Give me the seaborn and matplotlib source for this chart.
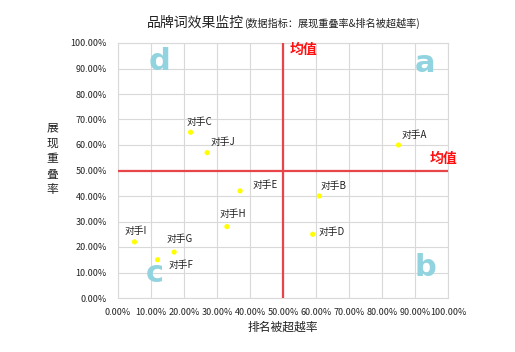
import matplotlib
matplotlib.use("Agg")
import matplotlib.pyplot as plt
import seaborn as sns
import pandas as pd
from matplotlib.ticker import FuncFormatter, MultipleLocator

names = ["对手A", "对手B", "对手C", "对手D", "对手E", "对手F", "对手G", "对手H", "对手I", "对手J"]
overtake_rate = [0.85, 0.61, 0.22, 0.59, 0.37, 0.12, 0.17, 0.33, 0.05, 0.27]
overlap_rate = [0.60, 0.40, 0.65, 0.25, 0.42, 0.15, 0.18, 0.28, 0.22, 0.57]
mean_x = 0.50
mean_y = 0.50
label_offsets = {  # pixel offsets of label left/center relative to point
    "对手A": (3, 10), "对手B": (1, 10), "对手C": (-4, 10), "对手D": (6, 2),
    "对手E": (12, 6), "对手F": (11, -5), "对手G": (-8, 13), "对手H": (-7, 13),
    "对手I": (-10, 11), "对手J": (3, 11),
}

df = pd.DataFrame({"name": names, "x": overtake_rate, "y": overlap_rate})

sns.set_theme(style="white")
plt.rcParams['font.family'] = ['Noto Sans CJK SC', 'DejaVu Sans']

fig = plt.figure(figsize=(5.15, 3.52), dpi=100)
ax = fig.add_axes([118/515, 1-298/352, 330/515, 255/352])

sns.scatterplot(data=df, x="x", y="y", ax=ax, color="#ffff00", s=14,
                edgecolor="none", zorder=4)

ax.set_xlim(0, 1)
ax.set_ylim(0, 1)
ax.xaxis.set_major_locator(MultipleLocator(0.1))
ax.yaxis.set_major_locator(MultipleLocator(0.1))
pct = FuncFormatter(lambda v, p: f"{v*100:.2f}%")
ax.xaxis.set_major_formatter(pct)
ax.yaxis.set_major_formatter(pct)
ax.tick_params(axis="both", labelsize=6.5, length=0, colors="#222222")
ax.tick_params(axis="x", pad=7)
ax.tick_params(axis="y", pad=8)
ax.grid(True, color="#d9d9d9", linewidth=0.8)
for s in ax.spines.values():
    s.set_color("#d9d9d9")
    s.set_linewidth(0.8)

ax.axvline(mean_x, color="#e8454a", linewidth=1.6, zorder=3)
ax.axhline(mean_y, color="#e8454a", linewidth=1.6, zorder=3)

ax.set_xlabel("排名被超越率", fontsize=8.5, color="#222222", labelpad=3)
ax.set_ylabel("")
fig.text(52/515, 1-159/352, "展\n现\n重\n叠\n率", fontsize=8.5, ha="center", va="center",
         linespacing=1.25, color="#222222")

for _, r in df.iterrows():
    dx, dy = label_offsets[r["name"]]
    ax.annotate(r["name"], (r["x"], r["y"]), xytext=(dx, dy), textcoords="offset pixels",
                fontsize=7, ha="left", va="center", color="#222222", zorder=5)

# quadrant letters
qc = "#92d3e0"
ax.text(160/515, 1-61/352, "d", transform=fig.transFigure, fontsize=22, fontweight="bold",
        color=qc, ha="center", va="center", family="DejaVu Sans")
ax.text(425/515, 1-63/352, "a", transform=fig.transFigure, fontsize=22, fontweight="bold",
        color=qc, ha="center", va="center", family="DejaVu Sans")
ax.text(155/515, 1-273/352, "c", transform=fig.transFigure, fontsize=22, fontweight="bold",
        color=qc, ha="center", va="center", family="DejaVu Sans")
ax.text(425/515, 1-268/352, "b", transform=fig.transFigure, fontsize=22, fontweight="bold",
        color=qc, ha="center", va="center", family="DejaVu Sans")

# mean labels
fig.text(304/515, 1-50/352, "均值", fontsize=10, fontweight="bold", color="#ff1010",
         ha="center", va="center")
fig.text(444/515, 1-159/352, "均值", fontsize=10, fontweight="bold", color="#ff1010",
         ha="center", va="center")

# title
fig.text(244/515, 1-23/352, "品牌词效果监控", fontsize=10, ha="right", va="center", color="#222222")
fig.text(244/515, 1-23/352, "(数据指标：展现重叠率&排名被超越率)", fontsize=7.3, ha="left",
         va="center", color="#222222")

fig.savefig("out.png", dpi=100, facecolor="white")
